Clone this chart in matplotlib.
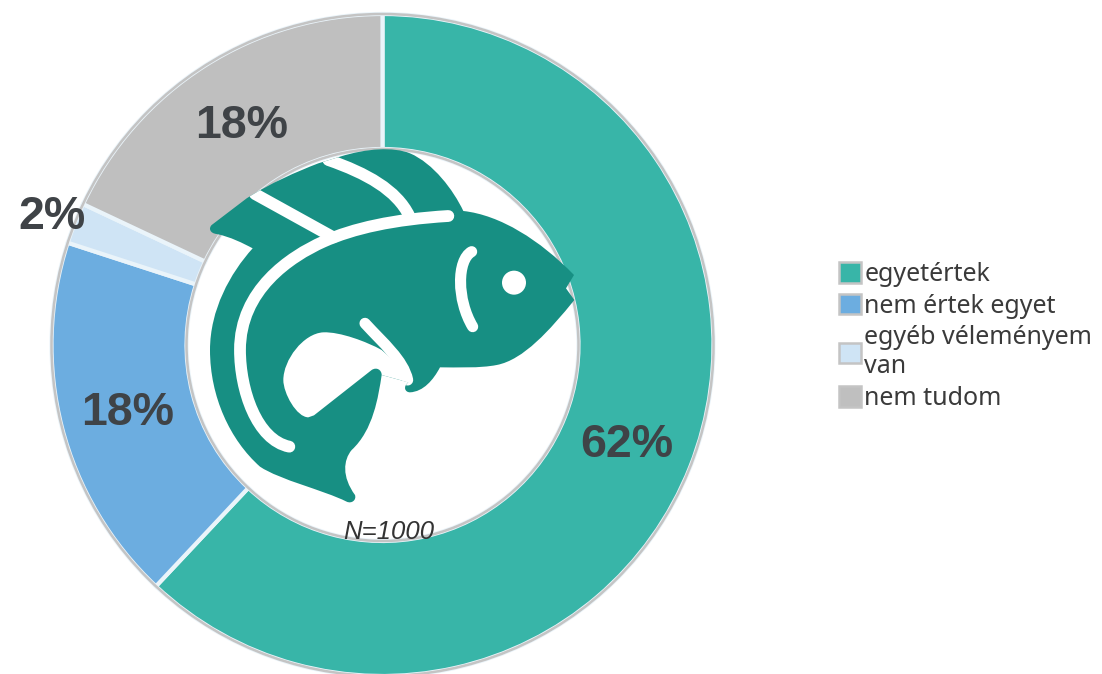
import numpy as np
import matplotlib
matplotlib.use("Agg")
import matplotlib.pyplot as plt
from matplotlib.patches import Circle, PathPatch, Patch
from matplotlib.path import Path

categories = ["egyetértek", "nem értek egyet", "egyéb véleményem\nvan", "nem tudom"]
values = [62, 18, 2, 18]
labels = ["62%", "18%", "2%", "18%"]
colors = ["#38b5a8", "#6cade0", "#cfe4f5", "#bfbfbf"]
label_radii = [263, 263, 355, 263]

W, H = 1102, 674
CX, CY, R_OUT, R_IN = 382.5, 674 - 345, 331, 196
FISH = "#178f83"

fig = plt.figure(figsize=(W / 100, H / 100), dpi=100)
ax = fig.add_axes([0, 0, 1, 1])
wedges, _ = ax.pie(values, center=(CX, CY), radius=R_OUT, startangle=90, counterclock=False,
                   colors=colors, frame=True,
                   wedgeprops=dict(width=R_OUT - R_IN, edgecolor="#eaf4fa", linewidth=3))
ax.set_xlim(0, W)
ax.set_ylim(0, H)
ax.set_aspect("equal")
ax.axis("off")

for r in (R_OUT, R_IN):
    ax.add_patch(Circle((CX, CY), r, fill=False, edgecolor="#c4c4c4", linewidth=1.8, zorder=3))

# Fish icon, traced in the coordinates of a 3x crop of the picture
def pt(p):
    return (180 + p[0] / 3, H - (130 + p[1] / 3))

def build(cmds):
    verts, codes = [], []
    for c in cmds:
        if c[0] == "M":
            verts.append(pt(c[1])); codes.append(Path.MOVETO)
        elif c[0] == "L":
            verts.append(pt(c[1])); codes.append(Path.LINETO)
        else:
            verts += [pt(c[1]), pt(c[2]), pt(c[3])]; codes += [Path.CURVE4] * 3
    return Path(verts, codes)

body = build([
    ("M", (95, 285)), ("L", (200, 205)), ("C", (270, 160), (350, 125), (415, 100)),
    ("L", (480, 80)), ("C", (560, 55), (640, 50), (690, 70)),
    ("C", (760, 100), (820, 180), (850, 243)), ("C", (960, 255), (1080, 330), (1182, 435)),
    ("L", (1158, 475)), ("L", (1183, 510)), ("C", (1110, 600), (1030, 690), (950, 705)),
    ("C", (900, 715), (830, 712), (780, 712)), ("C", (760, 750), (730, 785), (690, 787)),
    ("C", (675, 787), (668, 770), (685, 757)), ("L", (605, 735)),
    ("C", (595, 800), (580, 900), (515, 960)), ("C", (490, 990), (485, 1040), (525, 1095)),
    ("C", (530, 1110), (515, 1122), (500, 1115)), ("C", (430, 1080), (300, 1050), (240, 1010)),
    ("C", (150, 930), (90, 800), (90, 660)), ("C", (90, 540), (150, 430), (218, 355)),
    ("C", (190, 340), (150, 320), (110, 312)), ("C", (90, 310), (85, 295), (95, 285)),
])
fish = PathPatch(body, facecolor=FISH, edgecolor="none", zorder=4)
ax.add_patch(fish)

blob = build([
    ("M", (605, 660)), ("C", (560, 635), (480, 605), (430, 607)),
    ("C", (370, 610), (310, 690), (310, 750)), ("C", (310, 790), (350, 862), (385, 862)),
    ("L", (402, 856)), ("L", (575, 720)), ("C", (590, 710), (605, 720), (605, 735)),
    ("L", (685, 757)), ("L", (650, 700)), ("L", (605, 660)),
])
ax.add_patch(PathPatch(blob, facecolor="white", edgecolor="none", zorder=5))

strokes = [
    ([("M", (805, 258)), ("C", (640, 268), (520, 295), (430, 335)),
      ("C", (330, 380), (180, 480), (180, 660)), ("C", (180, 780), (230, 930), (328, 950))], 8.5),
    ([("M", (225, 192)), ("L", (460, 322))], 8.5),
    ([("M", (445, 90)), ("C", (560, 130), (650, 180), (688, 258))], 8.5),
    ([("M", (875, 365)), ("C", (830, 390), (830, 510), (878, 590))], 8),
    ([("M", (555, 580)), ("C", (610, 640), (670, 690), (683, 750))], 8),
]
for cmds, lw in strokes:
    s = PathPatch(build(cmds), facecolor="none", edgecolor="white", linewidth=lw,
                  capstyle="round", zorder=6)
    ax.add_patch(s)
    s.set_clip_path(fish)
ax.add_patch(Circle(pt((1002, 458)), 12, facecolor="white", edgecolor="none", zorder=6))

# Percentage labels
for w, lab, r in zip(wedges, labels, label_radii):
    a = np.deg2rad((w.theta1 + w.theta2) / 2)
    ax.text(CX + r * np.cos(a), CY + r * np.sin(a) - 3, lab, ha="center", va="center",
            fontsize=33.5, fontweight="bold", family="Liberation Sans", color="#3f4347", zorder=7)

ax.text(389, H - 532, "N=1000", ha="center", va="center", fontsize=18.5, style="italic",
        family="Liberation Sans", color="#333333", zorder=7)

handles = [Patch(facecolor=c, edgecolor="#c4c4c4", linewidth=1.8) for c in colors]
ax.legend(handles, categories, loc="upper left", bbox_to_anchor=(839, H - 262),
          bbox_transform=ax.transData, frameon=False, handlelength=0.88, handleheight=0.88,
          handletextpad=0.14, labelspacing=0.27, borderpad=0, borderaxespad=0,
          prop=dict(family="Noto Sans", size=18), labelcolor="#3a3a3a")

fig.savefig("out.png", dpi=100, facecolor="white")
